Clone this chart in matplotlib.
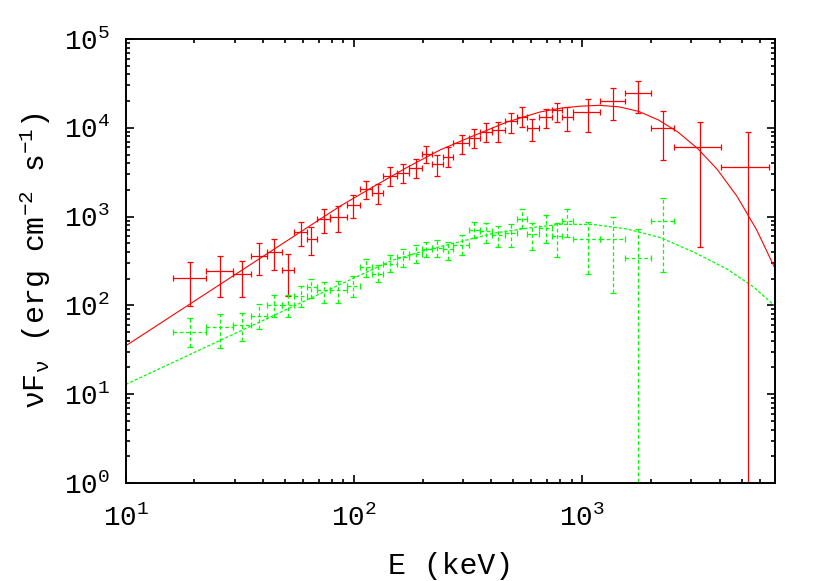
import numpy as np
import matplotlib
matplotlib.use('Agg')
import matplotlib.pyplot as plt

plt.rcParams['font.family'] = 'Liberation Mono'
plt.rcParams['mathtext.fontset'] = 'custom'
plt.rcParams['mathtext.rm'] = 'Liberation Mono'
plt.rcParams['mathtext.it'] = 'Liberation Mono'
plt.rcParams['mathtext.bf'] = 'Liberation Mono:bold'

# energy bins (keV), shared by both spectra
edges = [16.1, 22.6, 29.6, 35.3, 41.8, 48.2, 54.7, 62.0, 68.6, 78.5, 92.9, 106, 120,
         134, 154, 175, 198, 219, 245, 273, 320, 357, 402, 460, 517, 572, 645, 736,
         815, 916, 1200, 1544, 2000, 2532, 4058, 6564]
e_mid = [19.2, 26.0, 32.2, 38.4, 44.7, 51.2, 58.4, 65.2, 73.9, 85.3, 99.3, 112.9,
         127.0, 143.9, 164.5, 187.1, 206.9, 230.5, 257.6, 296.8, 337.0, 378.2, 429.6,
         488.3, 543.9, 605.3, 693.1, 779.1, 861.9, 1059, 1363, 1755, 2259, 3292, 5309]

# red spectrum (nuFnu, upper and lower ends of the error bar)
red_f = [202, 244, 224, 360, 402, 250, 676, 559, 932, 997, 1350, 2030, 1830, 2888,
         3073, 3499, 5070, 3911, 4726, 6796, 7616, 9036, 9446, 12020, 13340, 9872,
         13340, 15860, 13130, 14940, 20200, 24460, 10030, 6031, 3591]
red_hi = [310, 360, 319, 500, 555, 376, 876, 770, 1218, 1316, 1751, 2517, 2311, 3647,
          3911, 4418, 6237, 4940, 6126, 8295, 9694, 11240, 11720, 14560, 17020, 12460,
          16150, 19180, 17020, 20940, 27840, 33920, 15580, 11530, 8898]
red_lo = [98, 125, 125, 218, 250, 128, 467, 369, 659, 676, 972, 1566, 1375, 2211,
          2409, 2700, 4046, 2888, 3591, 5070, 5876, 6867, 6867, 8672, 10290, 7154,
          10030, 11720, 9204, 9036, 12240, 14560, 4339, 458, 0]

# green spectrum (first 33 bins only)
green_f = [49.8, 56.7, 60.2, 76.0, 101, 101, 127.6, 159.9, 149.1, 149.1, 165.4, 268.6,
           225.7, 292.6, 350.8, 379.2, 434.9, 445.1, 428.2, 482.6, 712, 688.3, 620.6,
           653.6, 939.7, 637, 738.5, 596.9, 885.2, 555, 555, 339.2, 899]
green_hi = [72.7, 79.4, 81.5, 102.9, 131, 131, 165.4, 196.7, 184.9, 189.7, 214.3, 330.4,
            285.1, 369.5, 428.2, 478.8, 521.6, 545.2, 521.6, 620.6, 876, 840.6, 789.9,
            818.9, 1208, 840.6, 1042, 840.6, 1208, 876, 982, 719.5, 1607]
green_lo = [34.3, 32.9, 39.7, 53.8, 73.5, 73.5, 96.7, 120.2, 107.3, 105.6, 123.4, 210.4,
            183.4, 237.8, 268.6, 302.7, 348.1, 353.5, 324.5, 369.5, 569.5, 508.3, 458,
            458, 738.5, 420.7, 500, 353.5, 593.8, 224, 139, 0, 236]

# model curves
model_e_red = [10, 21.1, 45.0, 86.8, 121.1, 169.1, 238.4, 332.5, 469, 654.3, 801, 977,
               1190, 1455, 1773, 2163, 2636, 3215, 3918, 4779, 5826, 7000]
model_red = [35.0, 122.1, 434, 1306, 2154, 3526, 5623, 8086, 11620, 15060, 16580, 17500,
             17900, 17200, 15280, 12230, 8914, 5815, 3375, 1683, 704, 261]
model_e_green = [10, 21.1, 45.0, 86.8, 123.6, 148.7, 208.4, 291.7, 408.3, 572.1, 801,
                 1121, 1571, 2198, 3077, 4311, 5639, 7000]
model_green = [12.86, 31.5, 78.0, 171.5, 261.7, 324.5, 420.7, 521.6, 648.5, 738.5, 818.9,
               815, 725.2, 581.6, 399.6, 257, 161.2, 98.4]


def draw_spectrum(ax, f, hi, lo, color, dashed):
    n = len(f)
    e = np.array(e_mid[:n])
    el = np.array(edges[:n])
    eh = np.array(edges[1:n + 1])
    f = np.array(f, dtype=float)
    lo = np.maximum(np.array(lo, dtype=float), 1e-2)
    hi = np.array(hi, dtype=float)
    _, caps, bars = ax.errorbar(e, f, xerr=[e - el, eh - e], yerr=[f - lo, hi - f],
                                fmt='none', ecolor=color, elinewidth=0.9,
                                capsize=2.4, capthick=0.9)
    if dashed:
        for b in bars:
            b.set_linestyle((0, (3, 2)))


fig = plt.figure(figsize=(8.3, 5.81), dpi=100)
ax = fig.add_axes([0.1514, 0.1687, 0.7823, 0.7642])
ax.set_xscale('log')
ax.set_yscale('log')

ax.plot(model_e_red, model_red, color='#ff0000', linewidth=0.8)
ax.plot(model_e_green, model_green, color='#00ff00', linewidth=0.9, dashes=(2.5, 1.5))
draw_spectrum(ax, red_f, red_hi, red_lo, '#ff0000', False)
draw_spectrum(ax, green_f, green_hi, green_lo, '#00ff00', True)

ax.set_xlim(10, 7000)
ax.set_ylim(1, 1e5)

for s in ax.spines.values():
    s.set_linewidth(1.4)
ax.tick_params(which='both', direction='in', top=True, right=True, width=1.2)
ax.tick_params(which='major', length=5.5, labelsize=20, pad=11)
ax.tick_params(which='minor', length=2.8)
ax.tick_params(axis='x', which='major', pad=16)

ax.set_xlabel('E (keV)', fontsize=21.5, labelpad=14)
ax.set_ylabel(r'$\nu$F$_\nu$ (erg cm$^{-2}$ s$^{-1}$)', fontsize=21.5, labelpad=8)

fig.savefig('out.png', dpi=100)
